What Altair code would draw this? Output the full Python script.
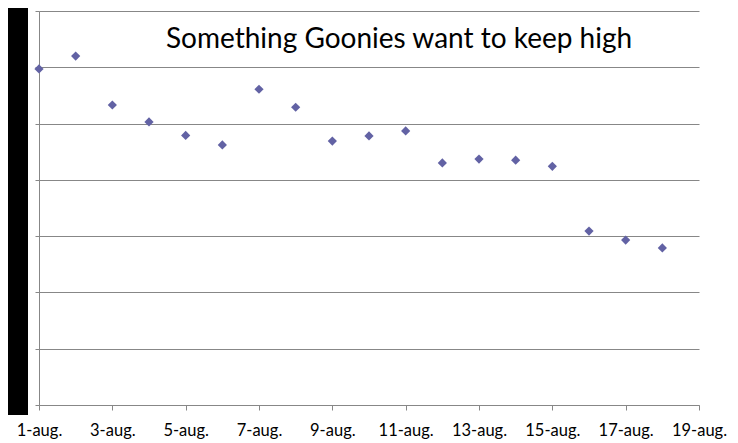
import altair as alt
import pandas as pd

days = list(range(1, 19))
values = [5.97, 6.20, 5.33, 5.03, 4.79, 4.62, 5.61, 5.29, 4.69, 4.78, 4.87,
          4.30, 4.37, 4.35, 4.24, 3.09, 2.93, 2.79]
tick_days = [1, 3, 5, 7, 9, 11, 13, 15, 17, 19]
y_ticks = [0, 1, 2, 3, 4, 5, 6, 7]
title_text = "Something Goonies want to keep high"

df = pd.DataFrame({"day": days, "value": values})

GRAY = "#878787"
FONT = "Lato"

points = alt.Chart(df).mark_point(
    shape="diamond", filled=True, opacity=1, color="#6262A4", size=85
).encode(
    x=alt.X("day:Q", scale=alt.Scale(domain=[1, 19], nice=False, zero=False),
            axis=alt.Axis(values=tick_days, title=None, grid=False,
                          labelExpr="datum.value + '-aug.'",
                          domainColor=GRAY, tickColor=GRAY, tickSize=5,
                          labelFont=FONT, labelFontSize=16.5, labelColor="#000000",
                          labelPadding=12, labelFlush=False)),
    y=alt.Y("value:Q", scale=alt.Scale(domain=[0, 7], nice=False),
            axis=alt.Axis(values=y_ticks, title=None, labels=False,
                          grid=True, gridColor=GRAY, gridOpacity=1,
                          domainColor=GRAY, tickColor=GRAY, tickSize=4)),
)

title = alt.Chart(pd.DataFrame({"t": [title_text]})).mark_text(
    align="left", baseline="alphabetic", font=FONT, fontSize=28, color="#000000"
).encode(
    text="t:N", x=alt.value(127), y=alt.value(37)
)

block = alt.Chart(pd.DataFrame({"a": [0]})).mark_rect(color="#000000").encode(
    x=alt.value(-31), x2=alt.value(-11), y=alt.value(-3), y2=alt.value(404)
)

chart = alt.layer(block, points, title).properties(
    width=660, height=394,
    autosize=alt.AutoSizeParams(type="none"),
    padding={"left": 31, "top": 3, "right": 30, "bottom": 38},
    background="white",
).configure_view(stroke=None)

chart.save("out.html", embed_options={"renderer": "svg", "actions": False})
